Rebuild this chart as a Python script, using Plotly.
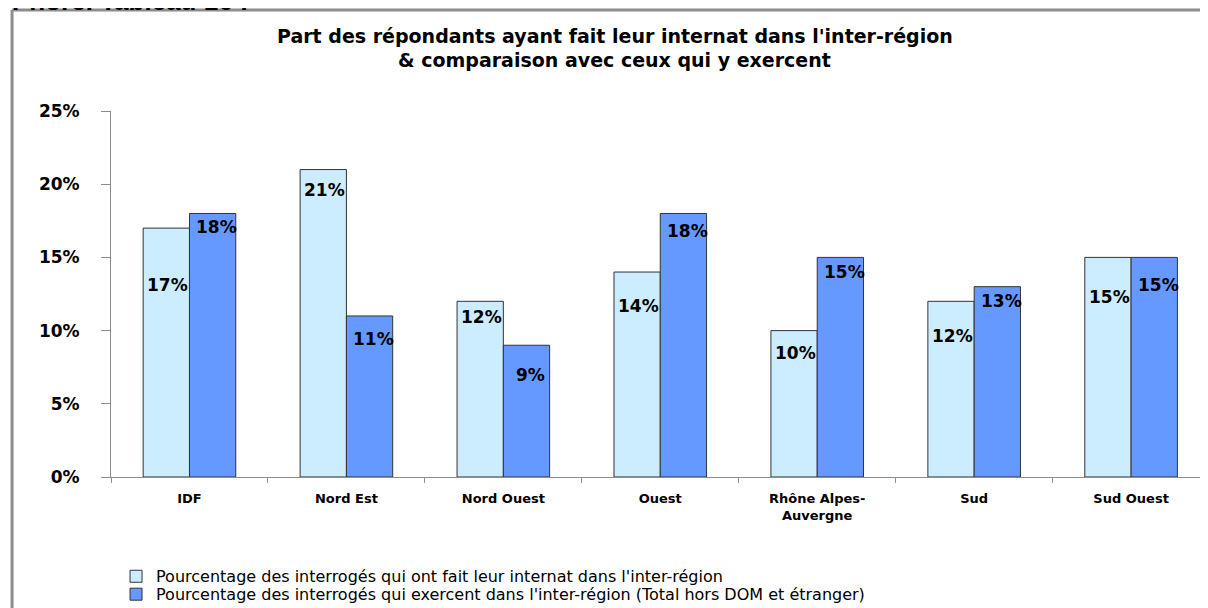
import plotly.graph_objects as go

categories = ["IDF", "Nord Est", "Nord Ouest", "Ouest", "Rhône Alpes-<br>Auvergne", "Sud", "Sud Ouest"]
internat = [17, 21, 12, 14, 10, 12, 15]
exercent = [18, 11, 9, 18, 15, 13, 15]
# vertical placement of the data labels (in % units), as moved in the original
internat_label_y = [13.1, 19.6, 10.9, 11.7, 8.5, 9.6, 12.3]
exercent_label_y = [17.1, 9.4, 7.0, 16.8, 14.0, 12.0, 13.1]

title_line1 = "Part des répondants ayant fait leur internat dans l'inter-région"
title_line2 = "& comparaison avec ceux qui y exercent"
name1 = "Pourcentage des interrogés qui ont fait leur internat dans l'inter-région"
name2 = "Pourcentage des interrogés qui exercent dans l'inter-région (Total hors DOM et étranger)"

fig = go.Figure()
fig.add_trace(go.Bar(x=categories, y=internat, name=name1, legend="legend",
                     marker=dict(color="#CCECFF", line=dict(color="#333333", width=1))))
fig.add_trace(go.Bar(x=categories, y=exercent, name=name2, legend="legend2",
                     marker=dict(color="#6699FF", line=dict(color="#333333", width=1))))

label_font = dict(family="DejaVu Sans", size=17, color="#000000", weight="bold")
for c, v, ly in zip(categories, internat, internat_label_y):
    fig.add_annotation(x=c, y=ly, text=f"{v}%", showarrow=False, xshift=-22, font=label_font)
for c, v, ly in zip(categories, exercent, exercent_label_y):
    fig.add_annotation(x=c, y=ly, text=f"{v}%", showarrow=False, xshift=27, font=label_font)

title_font = dict(family="DejaVu Sans", size=19, color="#000", weight="bold")
fig.add_annotation(xref="paper", yref="paper", x=0.4594, y=1.205, xanchor="center", yanchor="middle",
                   text=title_line1, showarrow=False, font=title_font)
fig.add_annotation(xref="paper", yref="paper", x=0.4594, y=1.14, xanchor="center", yanchor="middle",
                   text=title_line2, showarrow=False, font=title_font)

fig.add_annotation(xref="paper", yref="paper", x=-0.092, y=1.3, xanchor="left", yanchor="middle",
                   text="Phorc. Tableau 16 :", showarrow=False,
                   font=dict(family="Liberation Sans", size=26, color="#000", weight="bold"))

# outer frame
fig.add_shape(type="line", xref="paper", yref="paper", x0=-0.0902, x1=1.02, y0=1.276, y1=1.276,
              line=dict(color="#8C8C8C", width=3))
fig.add_shape(type="line", xref="paper", yref="paper", x0=-0.0902, x1=-0.0902, y0=1.276, y1=-0.40,
              line=dict(color="#8C8C8C", width=3))

legend_font = dict(family="DejaVu Sans", size=16, color="#000")
fig.update_layout(
    width=1200, height=600,
    margin=dict(l=103, r=0, t=103, b=131, autoexpand=False),
    paper_bgcolor="white", plot_bgcolor="white",
    barmode="group", bargap=0.41, bargroupgap=0,
    showlegend=True,
    legend=dict(x=0.0046, y=-0.225, xanchor="left", yanchor="top",
                font=legend_font, bgcolor="rgba(0,0,0,0)", itemwidth=30),
    legend2=dict(x=0.0046, y=-0.274, xanchor="left", yanchor="top",
                 font=legend_font, bgcolor="rgba(0,0,0,0)", itemwidth=30),
    xaxis=dict(range=[-0.5, 6.49], showline=True, linecolor="#8C8C8C", linewidth=1,
               ticks="outside", tickson="boundaries", ticklen=5, tickcolor="#8C8C8C",
               ticklabelstandoff=9,
               tickfont=dict(family="DejaVu Sans", size=13, color="#000", weight="bold"),
               showgrid=False, fixedrange=True),
    yaxis=dict(range=[0, 25], dtick=5, ticksuffix="%", showline=True, linecolor="#8C8C8C",
               linewidth=1, ticks="outside", ticklen=9, tickcolor="#8C8C8C",
               ticklabelstandoff=18,
               tickfont=dict(family="DejaVu Sans", size=17, color="#000", weight="bold"),
               showgrid=False, zeroline=False, fixedrange=True),
)

fig.write_html("out.html")
